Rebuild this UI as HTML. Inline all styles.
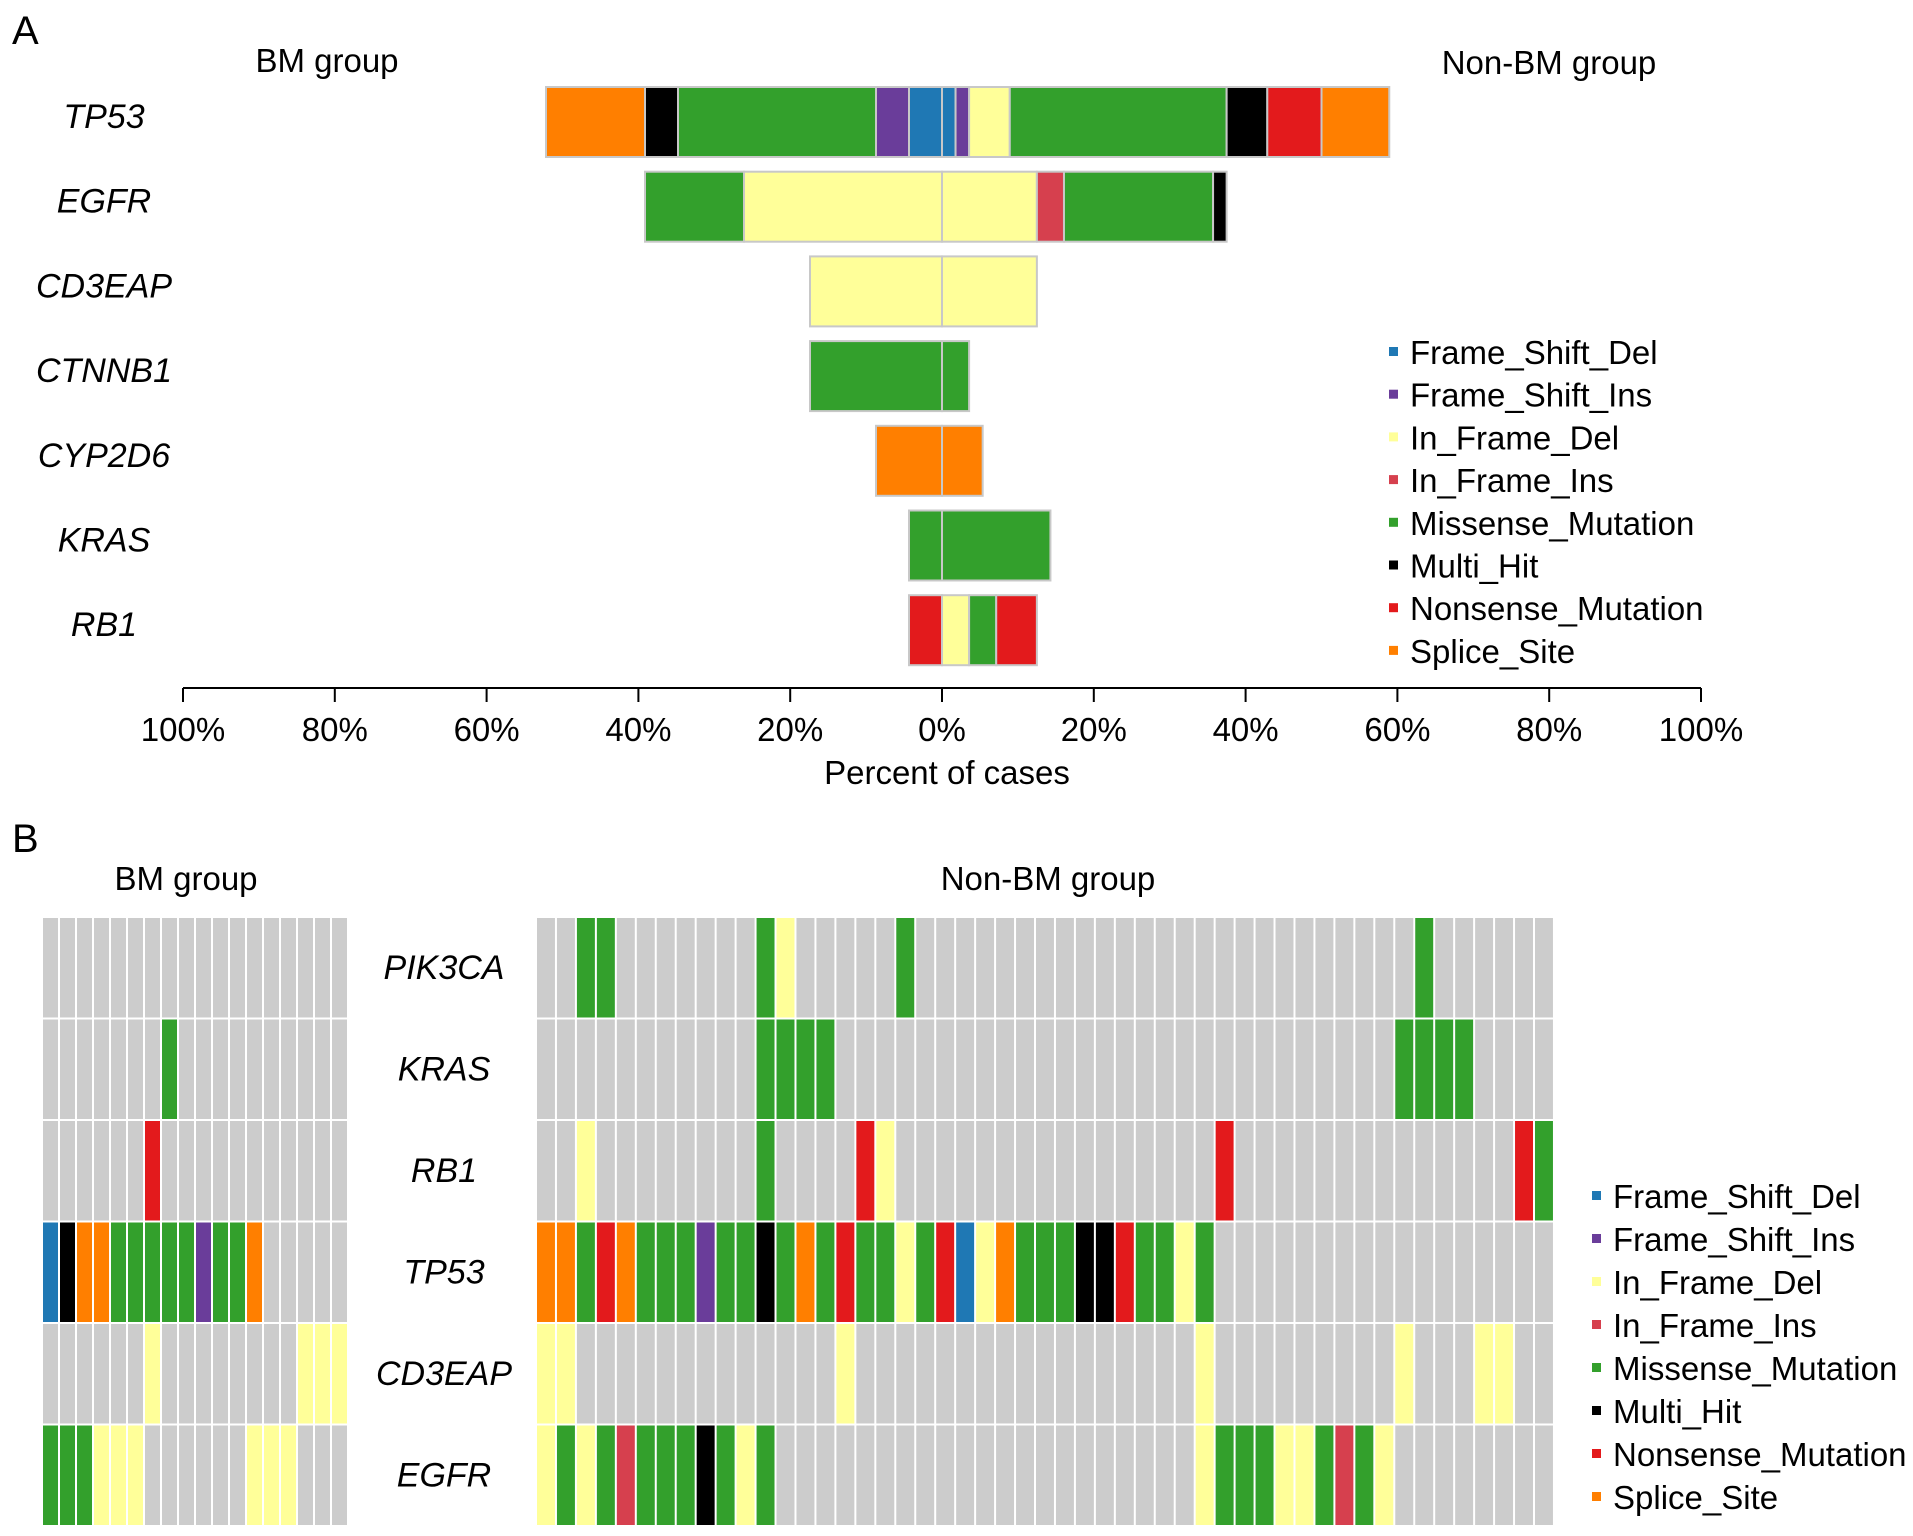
<!DOCTYPE html>
<html><head><meta charset="utf-8"><style>
html,body{margin:0;padding:0;background:#fff;}
svg{display:block;font-family:"Liberation Sans",Arial,sans-serif;}
</style></head><body>
<svg id="fig" width="1913" height="1536" viewBox="0 0 1913 1536" xmlns="http://www.w3.org/2000/svg">
<text x="12" y="44" font-size="40">A</text>
<text x="327" y="72" font-size="33" text-anchor="middle">BM group</text>
<text x="1549" y="74" font-size="33" text-anchor="middle">Non-BM group</text>
<text x="12" y="852" font-size="40">B</text>
<text x="186" y="890" font-size="33" text-anchor="middle">BM group</text>
<text x="1048" y="890" font-size="33" text-anchor="middle">Non-BM group</text>
<text x="947" y="784" font-size="33" text-anchor="middle">Percent of cases</text>
<g id="bars"></g>
<g id="grid"></g>
</svg>
<script>
// ---------- data ----------
const classNames = ["Frame_Shift_Del","Frame_Shift_Ins","In_Frame_Del","In_Frame_Ins","Missense_Mutation","Multi_Hit","Nonsense_Mutation","Splice_Site"];
const classColors = ["#1f78b4","#6a3d9a","#ffff99","#d6404e","#33a02c","#000000","#e31a1c","#ff7f00"];
const barGenes = ["TP53","EGFR","CD3EAP","CTNNB1","CYP2D6","KRAS","RB1"];
// counts per class (order of classNames)
const bmCounts = [[1,1,0,0,6,1,0,3],[0,0,6,0,3,0,0,0],[0,0,4,0,0,0,0,0],[0,0,0,0,4,0,0,0],[0,0,0,0,0,0,0,2],[0,0,0,0,1,0,0,0],[0,0,0,0,0,0,1,0]];
const nonbmCounts = [[1,1,3,0,16,3,4,5],[0,0,7,2,11,1,0,0],[0,0,7,0,0,0,0,0],[0,0,0,0,2,0,0,0],[0,0,0,0,0,0,0,3],[0,0,0,0,8,0,0,0],[0,0,2,0,2,0,3,0]];
const bmTotal = 23;
const nonbmTotal = 56;
const tickValues = [-100,-80,-60,-40,-20,0,20,40,60,80,100];
const tickLabels = ["100%","80%","60%","40%","20%","0%","20%","40%","60%","80%","100%"];

const gridGenes = ["PIK3CA","KRAS","RB1","TP53","CD3EAP","EGFR"];
// codes: b p y i g k r o ; '.' = none
const bmGrid = [
  "..................",
  ".......g..........",
  "......r...........",
  "bkoogggggpggo.....",
  "......y........yyy",
  "gggyyy......yyy..."
];
const nonbmGrid = [
  "..gg.......gy.....g.........................g......",
  "...........gggg............................gggg....",
  "..y........g....ry................r..............rg",
  "oogrogggpggkgogrggygrbyogggkkrggyg.................",
  "yy.............y.................y.........y...yy..",
  "ygygigggkgyg.....................ygggyygigy........"
];
const codeIndex = {b:0,p:1,y:2,i:3,g:4,k:5,r:6,o:7};

// ---------- helpers ----------
const NS = "http://www.w3.org/2000/svg";
function mk(tag, attrs, parent){const e=document.createElementNS(NS,tag);for(const k in attrs)e.setAttribute(k,attrs[k]);parent.appendChild(e);return e;}

// ---------- Panel A ----------
const bars = document.getElementById("bars");
const x0 = 942, xs = 7.59; // px per percent
function xPct(p){return x0 + p*xs;}
const barTop = 87, barStep = 84.7, barH = 70;
function yRow(i){return barTop + i*barStep;}

barGenes.forEach((g,gi)=>{
  const t = mk("text",{x:104,y:yRow(gi)+barH/2+6,"font-size":34,"font-style":"italic","text-anchor":"middle"},bars);
  t.textContent = g;
  
  
  let acc = 0;
  bmCounts[gi].forEach((c,ci)=>{
    if(!c) return;
    const w = c/bmTotal*100;
    const r = mk("rect",{x:xPct(-(acc+w)),y:yRow(gi),width:w*xs,height:barH,fill:classColors[ci],stroke:"#c8c8c8","stroke-width":2},bars);
    
    
    acc += w;
  });
  acc = 0;
  nonbmCounts[gi].forEach((c,ci)=>{
    if(!c) return;
    const w = c/nonbmTotal*100;
    const r = mk("rect",{x:xPct(acc),y:yRow(gi),width:w*xs,height:barH,fill:classColors[ci],stroke:"#c8c8c8","stroke-width":2},bars);
    
    
    acc += w;
  });
});
// axis
const axisY = 688;
const ax = mk("line",{x1:xPct(-100),x2:xPct(100),y1:axisY,y2:axisY,stroke:"#000","stroke-width":2},bars);


tickValues.forEach((v,i)=>{
  const tk = mk("line",{x1:xPct(v),x2:xPct(v),y1:axisY,y2:axisY+14,stroke:"#000","stroke-width":2},bars);
  
  
  const tl = mk("text",{x:xPct(v),y:741,"font-size":33,"text-anchor":"middle"},bars);
  tl.textContent = tickLabels[i];
  
  
});
// legend A
classNames.forEach((n,i)=>{
  const y = 352 + i*42.7;
  const sq = mk("rect",{x:1389,y:y-5,width:9,height:9,fill:classColors[i]},bars);
  
  
  const t = mk("text",{x:1410,y:y+12,"font-size":33},bars);
  t.textContent = n;
  
  
});

// ---------- Panel B ----------
const grid = document.getElementById("grid");
const gTop = 918, rowH = 101.5;
function drawGrid(rows, left, colW, name){
  rows.forEach((row,ri)=>{
    for(let c=0;c<row.length;c++){
      const ch = row[c];
      const fill = ch==='.' ? "#cccccc" : classColors[codeIndex[ch]];
      const r = mk("rect",{x:left+c*colW,y:gTop+ri*rowH,width:colW-2,height:rowH-2,fill:fill},grid);
      
      
    }
  });
}
drawGrid(bmGrid, 43, 17.0, 'bm');
drawGrid(nonbmGrid, 537, 19.96, 'nonbm');
gridGenes.forEach((g,i)=>{
  const t = mk("text",{x:444,y:gTop+i*rowH+rowH/2+10,"font-size":34,"font-style":"italic","text-anchor":"middle"},grid);
  t.textContent = g;
  
  
});
classNames.forEach((n,i)=>{
  const y = 1196 + i*43;
  const sq = mk("rect",{x:1592,y:y-5,width:9,height:9,fill:classColors[i]},grid);
  
  
  const t = mk("text",{x:1613,y:y+12,"font-size":33},grid);
  t.textContent = n;
  
  
});
</script>
</body></html>
